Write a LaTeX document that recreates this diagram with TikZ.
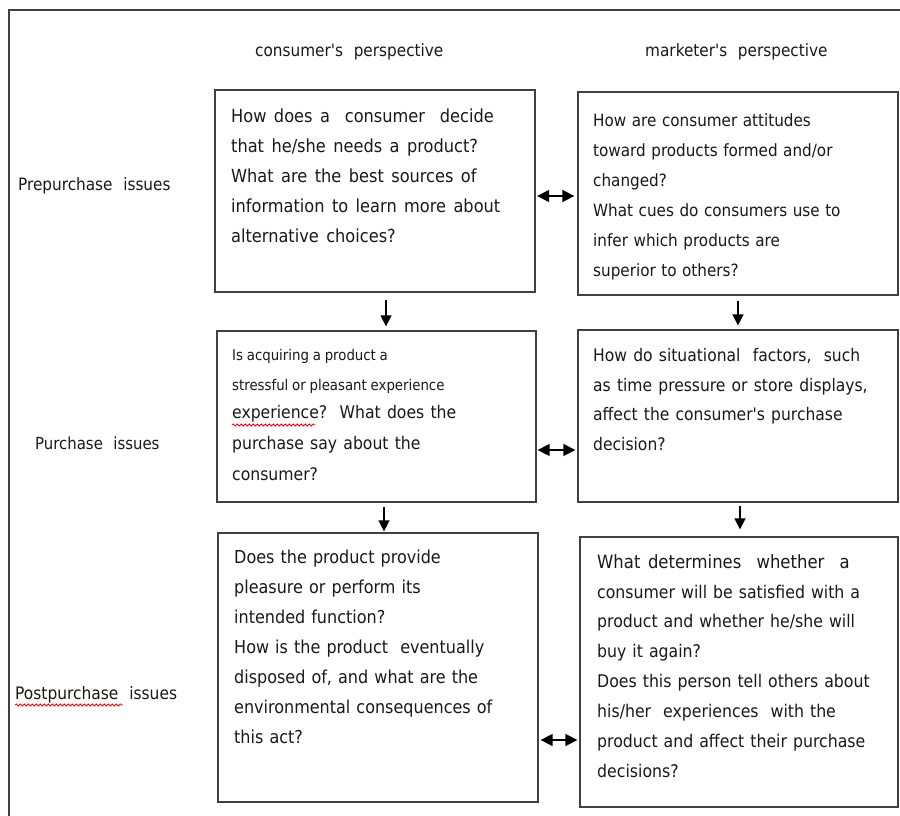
\documentclass[tikz,border=0pt]{standalone}
\usepackage{fontspec}
\setmainfont{DejaVu Sans Condensed}[Ligatures=TeXOff]
\usetikzlibrary{arrows.meta,calc,decorations.pathmorphing}
\newcommand\qfnt[3]{\fontsize{#1}{#2}\selectfont\spaceskip=#3\fontdimen2\font\relax}
\begin{document}
\begin{tikzpicture}[x=1pt,y=-1pt,
  frame/.style={draw=black!75,line width=1.3pt},
  qbox/.style={draw=black!75,line width=1.3pt,inner sep=0pt},
  qtext/.style={anchor=north west,inner sep=0pt,align=left,text=black!90},
  head/.style={anchor=west,inner sep=0pt,text=black!90,font=\qfnt{17}{20}{1.1}},
  arr/.style={line width=1.5pt,-{Triangle[length=11pt,width=11pt]}},
  darr/.style={line width=1.6pt,{Triangle[length=12pt,width=12pt]}-{Triangle[length=12pt,width=12pt]}},
  squig/.style={red,line width=0.8pt,decorate,decoration={snake,amplitude=1.1pt,segment length=4pt}}]
\useasboundingbox (0,0) rectangle (900,816);
\clip (0,0) rectangle (900,816);
\fill[white] (0,0) rectangle (900,816);
\draw[frame] (9,10) rectangle (910,830);

% headings
\node[head] (hc) at (255,52) {consumer's\ \ perspective};
\node[head] (hm) at (645,52) {marketer's\ \ perspective};

% row labels
\node[head] (lpre) at (18,186) {Prepurchase\ \ issues};
\node[head,font=\qfnt{16.6}{20}{1.1}] (lpur) at (35,443) {Purchase\ \ issues};
\node[head,font=\qfnt{17.2}{20}{1.1}] (lpost) at (15,695) {Postpurchase\ \ issues};
\draw[squig] (15,705) -- (123,705);

% boxes
\node[qbox,minimum width=320pt,minimum height=202pt] (A) at (375,191) {};
\node[qbox,minimum width=320pt,minimum height=203pt] (B) at (738,193.5) {};
\node[qbox,minimum width=319pt,minimum height=171pt] (C) at (376.5,416.5) {};
\node[qbox,minimum width=320pt,minimum height=172pt] (D) at (738,416) {};
\node[qbox,minimum width=320pt,minimum height=269pt] (E) at (378,667.5) {};
\node[qbox,minimum width=318pt,minimum height=270pt] (F) at (739,672) {};

% texts
\node[qtext,font=\qfnt{18}{29.8}{1.45}] (tA) at (231,109) {How does a\ \ consumer\ \ decide\\that he/she needs a product?\\What are the best sources of\\information to learn more about\\alternative choices?};
\node[qtext,font=\qfnt{16.9}{30}{1.15}] (tB) at (593,113) {How are consumer attitudes\\toward products formed and/or\\changed?\\What cues do consumers use to\\infer which products are\\superior to others?};
\node[qtext,font=\qfnt{14.8}{30}{0.9}] (tC1) at (232,349) {Is acquiring a product a\\stressful or pleasant experience};
\node[qtext,font=\qfnt{17.4}{31}{1.25}] (tC2) at (232,405) {experience?\ \ What does the\\purchase say about the\\consumer?};
\draw[squig] (232,425) -- (315,425);
\node[qtext,font=\qfnt{17.3}{29.7}{1.25}] (tD) at (593,348) {How do situational\ \ factors,\ \ such\\as time pressure or store displays,\\affect the consumer's purchase\\decision?};
\node[qtext,font=\qfnt{17.8}{30}{1.2}] (tE) at (234,550) {Does the product provide\\pleasure or perform its\\intended function?\\How is the product\ \ eventually\\disposed of, and what are the\\environmental consequences of\\this act?};
\node[qtext,font=\qfnt{17.5}{29.9}{1.2}] (tF) at (597,554) {{\qfnt{18.3}{29.9}{1.45}What determines\ \ whether\ \ a}\\consumer will be satisfied with a\\product and whether he/she will\\buy it again?\\Does this person tell others about\\his/her\ \ experiences\ \ with the\\product and affect their purchase\\decisions?};

% vertical arrows
\draw[arr] ([xshift=11pt,yshift=-7pt]A.south) -- ([xshift=11pt,yshift=4pt]A.south |- C.north);
\draw[arr] ([yshift=-5pt]B.south) -- ([yshift=4pt]B.south |- D.north);
\draw[arr] ([xshift=7.5pt,yshift=-4pt]C.south) -- ([xshift=7.5pt,yshift=1pt]C.south |- E.north);
\draw[arr] ([xshift=2pt,yshift=-3pt]D.south) -- ([xshift=2pt,yshift=7pt]D.south |- F.north);

% horizontal double arrows
\draw[darr] ($(A.east)+(1.5,5)$) -- ($(A.east -| B.west)+(-3,5)$);
\draw[darr] ($(C.east)+(1,33.5)$) -- ($(C.east -| D.west)+(-2,33.5)$);
\draw[darr] ($(E.east)+(2,72.5)$) -- ($(E.east -| F.west)+(-2,72.5)$);
\end{tikzpicture}
\end{document}
